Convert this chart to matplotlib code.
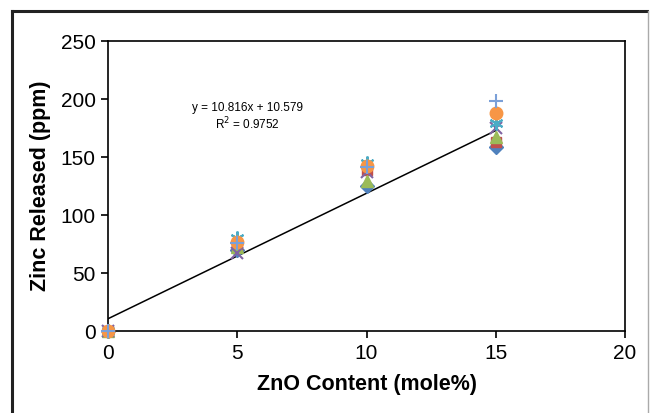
import matplotlib.pyplot as plt
from matplotlib.lines import Line2D

plt.rcParams['font.family'] = ['Liberation Sans', 'DejaVu Sans']

# ZnO content (mole%) y zinc liberado (ppm) por muestra
zno = [0, 5, 10, 15]
serie_diamante = [0, 70, 125, 159]
serie_cuadrado = [0, 73, 139, 163]
serie_triangulo = [0, 72, 129, 167]
serie_x = [0, 67, 137, 175]
serie_asterisco = [0, 80, 145, 179]
serie_circulo = [0, 77, 142, 188]
serie_mas = [0, 76, 141, 198]

# Ajuste lineal reportado
pendiente = 10.816
intercepto = 10.579
r2 = 0.9752

fig = plt.figure(figsize=(6.51, 4.13), dpi=100)
ax = fig.add_axes([0.1659, 0.1985, 0.7942, 0.7022])

# marco exterior
fig.add_artist(Line2D([11.5 / 651, 11.5 / 651], [0, 1 - 10.5 / 413], transform=fig.transFigure, color='#222222', lw=2.2))
fig.add_artist(Line2D([11.5 / 651, 647 / 651], [1 - 10.5 / 413, 1 - 10.5 / 413], transform=fig.transFigure, color='#222222', lw=2.2))
fig.add_artist(Line2D([647.5 / 651, 647.5 / 651], [0, 1 - 10.5 / 413], transform=fig.transFigure, color='#aaaaaa', lw=1))

ax.plot([0, 15], [intercepto, pendiente * 15 + intercepto], color='black', lw=1.1, zorder=1)

estilo = dict(ls='none', clip_on=False)
ax.plot(zno, serie_diamante, 'D', color='#4F81BD', ms=7, zorder=2, **estilo)
ax.plot(zno, serie_cuadrado, 's', color='#C0504D', ms=7, zorder=3, **estilo)
ax.plot(zno, serie_triangulo, '^', color='#9BBB59', ms=8, zorder=4, **estilo)
ax.plot(zno, serie_x, 'x', color='#8064A2', ms=9, mew=1.5, zorder=5, **estilo)
ax.plot(zno, serie_asterisco, marker=(6, 2, 0), color='#4BACC6', ms=10, mew=1.5, zorder=6, **estilo)
ax.plot(zno, serie_circulo, 'o', color='#F79646', ms=9, zorder=7, **estilo)
ax.plot(zno, serie_mas, '+', color='#7BA0D8', ms=10, mew=1.5, zorder=8, **estilo)

ax.set_xlim(0, 20)
ax.set_ylim(0, 250)
ax.set_xticks([0, 5, 10, 15, 20])
ax.set_yticks([0, 50, 100, 150, 200, 250])
ax.tick_params(direction='out', length=5, width=1.2, labelsize=15, pad=4)
for s in ax.spines.values():
    s.set_linewidth(1.2)

ax.set_xlabel('ZnO Content (mole%)', fontsize=15.5, fontweight='bold', labelpad=8)
ax.set_ylabel('Zinc Released (ppm)', fontsize=15.5, fontweight='bold', labelpad=7)

ax.text(5.4, 184.5, f'y = {pendiente}x + {intercepto}\nR$^2$ = {r2}', fontsize=8.5,
        ha='center', va='center', linespacing=1.1)

fig.savefig('out.png', dpi=100)
